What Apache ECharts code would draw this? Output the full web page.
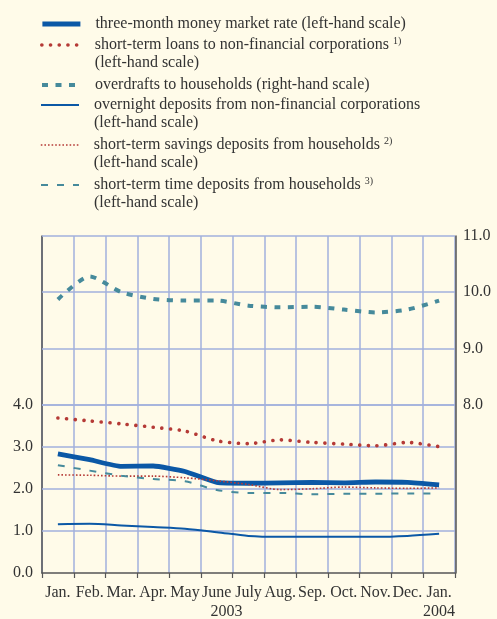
<!DOCTYPE html>
<html>
<head>
<meta charset="utf-8">
<script src="https://cdn.jsdelivr.net/npm/echarts@6/dist/echarts.min.js"></script>
<style>
  html, body { margin: 0; padding: 0; background: #fffbe9; }
  #chart { width: 497px; height: 619px; }
</style>
</head>
<body>
<div id="chart"></div>
<script>
// monthly observations, Jan 2003 - Jan 2004
const periods = ['2003-01', '2003-02', '2003-03', '2003-04', '2003-05', '2003-06', '2003-07',
  '2003-08', '2003-09', '2003-10', '2003-11', '2003-12', '2004-01'];
const monthLabels = ['Jan.', 'Feb.', 'Mar.', 'Apr.', 'May', 'June', 'July', 'Aug.', 'Sep.', 'Oct.', 'Nov.', 'Dec.', 'Jan.'];

const moneyMarket3m = [2.83, 2.69, 2.53, 2.54, 2.41, 2.15, 2.13, 2.14, 2.15, 2.14, 2.16, 2.15, 2.09];
const loansNfc = [3.68, 3.61, 3.54, 3.46, 3.37, 3.14, 3.07, 3.16, 3.10, 3.06, 3.02, 3.10, 3.00];
const overdraftsHh = [9.87, 10.28, 10.0, 9.88, 9.85, 9.85, 9.76, 9.73, 9.74, 9.69, 9.64, 9.69, 9.85];
const overnightNfc = [1.16, 1.17, 1.13, 1.09, 1.05, 0.97, 0.88, 0.86, 0.86, 0.86, 0.86, 0.88, 0.93];
const savingsHh = [2.33, 2.32, 2.30, 2.30, 2.26, 2.19, 2.10, 1.98, 2.00, 2.04, 2.02, 2.01, 2.02];
const timeDepHh = [2.56, 2.43, 2.31, 2.23, 2.18, 1.97, 1.90, 1.90, 1.87, 1.88, 1.88, 1.89, 1.89];

const gridLeftVals = [1, 2, 3, 4];
const gridRightVals = [8, 9, 10, 11];

const names = [
  'three-month money market rate',
  'short-term loans to non-financial corporations',
  'overdrafts to households',
  'overnight deposits from non-financial corporations',
  'short-term savings deposits from households',
  'short-term time deposits from households'
];

const BLUE = '#0b58a6';
const RED = '#b53a36';
const TEAL = '#468a9b';
const GRID = '#a2b0dc';
const TEXT = '#333333';
const FONT = 'Liberation Serif';

// line looks, shared by the series and their legend keys
const looks = [
  { color: BLUE, width: 4.8, type: 'solid', cap: 'butt', smooth: 0.15 },
  { color: RED, width: 3.6, type: [0.1, 8.6], cap: 'round', smooth: 0.25 },
  { color: TEAL, width: 4, type: [6, 7.5], cap: 'butt', smooth: 0.25 },
  { color: BLUE, width: 2, type: 'solid', cap: 'butt', smooth: 0.3 },
  { color: RED, width: 1.6, type: [1.6, 2], cap: 'butt', smooth: 0.25 },
  { color: TEAL, width: 2, type: [7, 9], cap: 'butt', smooth: 0.25 }
];

const chart = echarts.init(document.getElementById('chart'));

const legendText = {
  color: TEXT,
  fontFamily: FONT,
  fontSize: 16,
  lineHeight: 18,
  padding: [0, 0, 0, 10],
  rich: {
    t: { color: TEXT, fontFamily: FONT, fontSize: 16, lineHeight: 18 },
    sup: { color: TEXT, fontFamily: FONT, fontSize: 10, lineHeight: 18, verticalAlign: 'top', padding: [0, 0, 6, 0] }
  }
};

// one legend block per series so the icon sits beside the first text line
const legendRows = [
  { top: 15, text: '{t|three-month money market rate (left-hand scale)}' },
  { top: 18, text: '\n{t|short-term loans to non-financial corporations }{sup|1)}\n{t|(left-hand scale)}' },
  { top: 76, text: '{t|overdrafts to households (right-hand scale)}' },
  { top: 78, text: '\n{t|overnight deposits from non-financial corporations}\n{t|(left-hand scale)}' },
  { top: 118, text: '\n{t|short-term savings deposits from households }{sup|2)}\n{t|(left-hand scale)}' },
  { top: 158, text: '\n{t|short-term time deposits from households }{sup|3)}\n{t|(left-hand scale)}' }
];

const legends = legendRows.map((r, i) => ({
  data: [names[i]],
  left: 40,
  top: r.top,
  padding: 0,
  itemWidth: 38,
  itemHeight: 14,
  selectedMode: false,
  formatter: () => r.text,
  textStyle: legendText,
  itemStyle: { color: 'rgba(0,0,0,0)', borderWidth: 0, opacity: 0 },
  lineStyle: { color: looks[i].color, width: looks[i].width, type: looks[i].type, cap: looks[i].cap }
}));

function lineSeries(name, data, axis, look) {
  return {
    name: name,
    type: 'line',
    yAxisIndex: axis,
    data: data,
    symbol: 'none',
    smooth: look.smooth,
    z: 5,
    lineStyle: { color: look.color, width: look.width, type: look.type, cap: look.cap },
    itemStyle: { color: look.color }
  };
}

const option = {
  backgroundColor: '#fffbe9',
  animation: false,
  legend: legends,
  grid: { left: 42, right: 42, top: 236, bottom: 46, containLabel: false, outerBoundsMode: 'none' },
  xAxis: {
    type: 'category',
    data: periods,
    boundaryGap: true,
    axisLine: { show: true, lineStyle: { color: '#555555', width: 1.5 } },
    axisTick: { show: true, length: 5, lineStyle: { color: '#555555', width: 1.2 } },
    splitLine: { show: true, lineStyle: { color: GRID, width: 1.5 } },
    axisLabel: {
      interval: 0,
      margin: 10,
      color: TEXT,
      fontFamily: FONT,
      fontSize: 16,
      formatter: (v, i) => {
        let s = '{m|' + monthLabels[i] + '}';
        if (i === 6) s += '\n{y3|2003}';
        if (i === 12) s += '\n{y|2004}';
        return s;
      },
      rich: {
        m: { color: TEXT, fontFamily: FONT, fontSize: 16, lineHeight: 19 },
        y: { color: TEXT, fontFamily: FONT, fontSize: 16, lineHeight: 19 },
        y3: { color: TEXT, fontFamily: FONT, fontSize: 16, lineHeight: 19, padding: [0, 44, 0, 0] }
      }
    }
  },
  yAxis: [
    {
      type: 'value',
      min: 0,
      max: 8,
      interval: 1,
      position: 'left',
      axisLine: { show: true, lineStyle: { color: '#555555', width: 1.5 } },
      axisTick: { show: false },
      splitLine: { show: false },
      axisLabel: {
        margin: 9,
        color: TEXT,
        fontFamily: FONT,
        fontSize: 16,
        formatter: v => (v <= 4 ? v.toFixed(1) : '')
      }
    },
    {
      type: 'value',
      min: 5,
      max: 11,
      interval: 1,
      position: 'right',
      offset: 1,
      axisLine: { show: true, lineStyle: { color: '#555555', width: 1.5 } },
      axisTick: { show: false },
      splitLine: { show: false },
      axisLabel: {
        margin: 7,
        color: TEXT,
        fontFamily: FONT,
        fontSize: 16,
        formatter: v => (v >= 8 ? v.toFixed(1) : '')
      }
    }
  ],
  series: [
    {
      name: 'grid-left',
      type: 'line',
      yAxisIndex: 0,
      data: [],
      z: 1,
      silent: true,
      markLine: {
        silent: true,
        symbol: 'none',
        label: { show: false },
        lineStyle: { color: GRID, width: 1.5, type: 'solid' },
        data: gridLeftVals.map(v => ({ yAxis: v }))
      }
    },
    {
      name: 'grid-right',
      type: 'line',
      yAxisIndex: 1,
      data: [],
      z: 1,
      silent: true,
      markLine: {
        silent: true,
        symbol: 'none',
        label: { show: false },
        lineStyle: { color: GRID, width: 1.5, type: 'solid' },
        data: gridRightVals.map(v => ({ yAxis: v }))
      }
    },
    lineSeries(names[0], moneyMarket3m, 0, looks[0]),
    lineSeries(names[1], loansNfc, 0, looks[1]),
    lineSeries(names[2], overdraftsHh, 1, looks[2]),
    lineSeries(names[3], overnightNfc, 0, looks[3]),
    lineSeries(names[4], savingsHh, 0, looks[4]),
    lineSeries(names[5], timeDepHh, 0, looks[5])
  ]
};

chart.setOption(option);
window.addEventListener('resize', () => chart.resize());
</script>
</body>
</html>
